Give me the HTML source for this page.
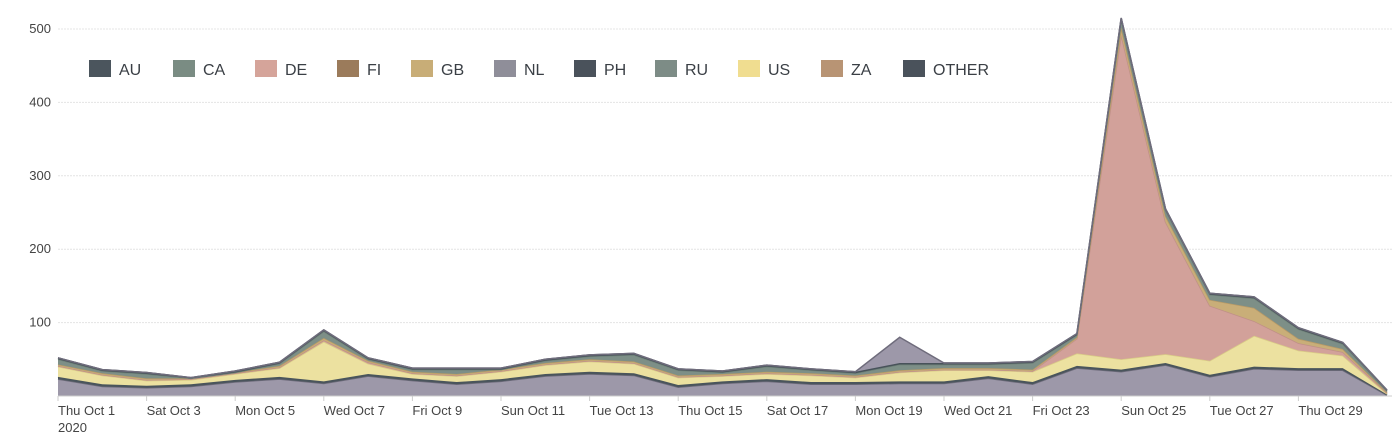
<!DOCTYPE html>
<html><head><meta charset="utf-8"><style>
body{margin:0;background:#fff;width:1400px;height:436px;overflow:hidden;font-family:"Liberation Sans",sans-serif}
svg text{font-family:"Liberation Sans",sans-serif}
</style></head><body>
<svg id="chart" width="1400" height="436" xmlns="http://www.w3.org/2000/svg"></svg>
<script>
const days=["Thu Oct 1","Sat Oct 3","Mon Oct 5","Wed Oct 7","Fri Oct 9","Sun Oct 11","Tue Oct 13","Thu Oct 15","Sat Oct 17","Mon Oct 19","Wed Oct 21","Fri Oct 23","Sun Oct 25","Tue Oct 27","Thu Oct 29"];
const yTicks=[100,200,300,400,500];
const NL=[23,13,11,13,19,23,17,27,21,16,20,27,30,28,12,17,20,16,16,17,17,24,16,38,33,42,26,37,35,35,1];
const PH=[3,3,3,3,3,3,3,3,3,3,3,3,3,3,3,3,3,3,3,3,3,3,3,3,3,3,3,3,3,3,1];
const US=[14,12,7,6,8,12,54,14,6,8,10,12,14,13,10,7,7,9,6,12,15,8,14,17,14,12,19,42,24,17,1];
const DE=[1,1,1,1,1,1,2,2,1,1,1,1,1,1,1,1,1,1,1,1,1,1,1,20,442,180,75,20,10,5,1];
const GB=[2,2,2,1,1,2,3,2,2,2,2,2,2,2,2,2,2,2,2,2,2,2,2,2,10,8,8,18,6,4,1];
const CA=[7,3,6,0,0,3,9,2,3,6,0,3,4,9,7,2,7,4,3,8,5,5,9,3,11,8,7,13,13,7,2];
const AU=[2,2,2,1,2,2,2,2,2,2,2,2,2,2,2,2,2,2,2,2,2,2,2,2,2,2,2,2,2,2,1];
const OTHER=[0,0,0,0,0,0,0,0,0,0,0,0,0,0,0,0,0,0,0,35,0,0,0,0,0,0,0,0,0,0,0];
const legendNames=["AU","CA","DE","FI","GB","NL","PH","RU","US","ZA","OTHER"];
const legendColors=["#4b555d","#7a8c83","#d5a49a","#9b7b5b","#c8ad77","#8f8e99","#4a525b","#7d8c86","#f0dd90","#b89474","#4a525b"];

const NS="http://www.w3.org/2000/svg";
const svg=document.getElementById('chart');
const x0=58,dx=44.3,y0=396,ppu=0.734;
const X=i=>x0+i*dx, Y=v=>y0-v*ppu;
function mk(t,a,p){const e=document.createElementNS(NS,t);for(const k in a)e.setAttribute(k,a[k]);(p||svg).appendChild(e);return e;}

const grid=mk('g',{});


yTicks.forEach(v=>{
  const l=mk('line',{x1:x0,x2:1392,y1:Y(v),y2:Y(v),stroke:'#e4e4e4','stroke-width':1,'stroke-dasharray':'2,1'},grid);
  
  
  const t=mk('text',{x:51,y:Y(v)+4,'text-anchor':'end','font-size':13,fill:'#444'});
  t.textContent=v;
  
  
});

const layers=[["nl",NL,"#9d98a9","#6f6c7c"],["ph",PH,"#4a555c","#4a555c"],["us",US,"#ece1a0","#d9cc86"],["de",DE,"#d2a19a","#c09088"],["gb",GB,"#c9ae78","#b89a66"],["ca",CA,"#7d8f87","#6d7f77"],["au",AU,"#48535a","#48535a"],["other",OTHER,"#9d98a9","#6f6c7c"]];
let base=NL.map(()=>0);
layers.forEach(([n,vals,fill,stroke])=>{
  const top=vals.map((v,i)=>base[i]+v);
  let d='M'+top.map((v,i)=>X(i)+','+Y(v)).join('L');
  for(let i=vals.length-1;i>=0;i--)d+='L'+X(i)+','+Y(base[i]);
  const p=mk('path',{d:d+'Z',fill:fill,stroke:'none'});
  
  
  const ln=mk('path',{d:'M'+top.map((v,i)=>X(i)+','+Y(v)).join('L'),fill:'none',stroke:stroke,'stroke-width':1.5});
  
  
  base=top;
});

mk('line',{x1:x0,x2:1392,y1:y0,y2:y0,stroke:'#ccc','stroke-width':1});
days.forEach((lab,k)=>{
  const x=X(k*2);
  const tk=mk('line',{x1:x,x2:x,y1:y0,y2:y0+5,stroke:'#ccc'});
  
  
  const t=mk('text',{x:x,y:415,'font-size':13,fill:'#444'});
  t.textContent=lab;
  
  
});
const yr=mk('text',{x:x0,y:432,'font-size':13,fill:'#444'});
yr.textContent='2020';



const legX=[89,173,255,337,411,494,574,655,738,821,903];
legendNames.forEach((n,i)=>{
  const g=mk('g',{});
  
  
  mk('rect',{x:legX[i],y:60,width:22,height:17,fill:legendColors[i]},g);
  const t=mk('text',{x:legX[i]+30,y:75,'font-size':16,fill:'#3a3f45'},g);
  t.textContent=n;
});
</script>
</body></html>
